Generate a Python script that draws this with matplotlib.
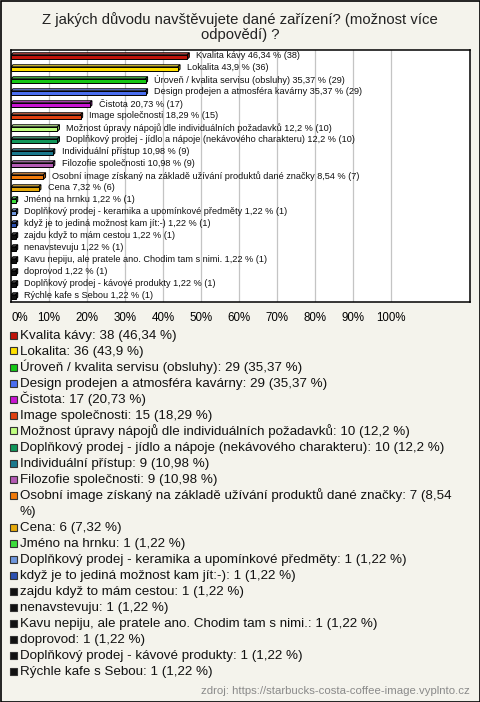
import matplotlib
matplotlib.use("Agg")
import matplotlib.pyplot as plt
from matplotlib.patches import Polygon, Rectangle

plt.rcParams['font.family'] = ['Liberation Sans', 'DejaVu Sans']

title = "Z jakých důvodu navštěvujete dané zařízení? (možnost více\nodpovědí) ?"
source = "zdroj: https://starbucks-costa-coffee-image.vyplnto.cz"

categories = [
    "Kvalita kávy",
    "Lokalita",
    "Úroveň / kvalita servisu (obsluhy)",
    "Design prodejen a atmosféra kavárny",
    "Čistota",
    "Image společnosti",
    "Možnost úpravy nápojů dle individuálních požadavků",
    "Doplňkový prodej - jídlo a nápoje (nekávového charakteru)",
    "Individuální přístup",
    "Filozofie společnosti",
    "Osobní image získaný na základě užívání produktů dané značky",
    "Cena",
    "Jméno na hrnku",
    "Doplňkový prodej - keramika a upomínkové předměty",
    "když je to jediná možnost kam jít:-)",
    "zajdu když to mám cestou",
    "nenavstevuju",
    "Kavu nepiju, ale pratele ano. Chodim tam s nimi.",
    "doprovod",
    "Doplňkový prodej - kávové produkty",
    "Rýchle kafe s Sebou",
]
counts = [38, 36, 29, 29, 17, 15, 10, 10, 9, 9, 7, 6, 1, 1, 1, 1, 1, 1, 1, 1, 1]
percents = [46.34, 43.9, 35.37, 35.37, 20.73, 18.29, 12.2, 12.2, 10.98, 10.98,
            8.54, 7.32, 1.22, 1.22, 1.22, 1.22, 1.22, 1.22, 1.22, 1.22, 1.22]
colors = ["#c0140a", "#ffe000", "#14c814", "#4a6ef0", "#c814d2", "#e04010",
          "#c0ff80", "#10965a", "#1a788c", "#b45ab4", "#f07a0a", "#e6aa0a",
          "#3cdc3c", "#6e96dc", "#2c50b0", "#111111", "#111111", "#111111",
          "#111111", "#111111", "#111111"]
xticks = list(range(0, 101, 10))

W, H = 480, 702
bg = "#f4f3ec"

fig = plt.figure(figsize=(W / 100, H / 100), dpi=100, facecolor=bg)
fig.patches.append(Rectangle((0.5 / W, 0.5 / H), 1 - 1 / W, 1 - 1 / H, transform=fig.transFigure,
                             fill=False, edgecolor="black", linewidth=1.2))

fig.text(0.5, 1 - 27 / H, title, ha="center", va="center", fontsize=10.7,
         color="#222222", linespacing=1.1)

# chart area
ax = fig.add_axes([11 / W, 1 - 302 / H, (470 - 11) / W, (302 - 50) / H])
ax.set_facecolor("white")
n = len(categories)
ax.set_xlim(0, 120.7)
ax.set_ylim(n - 0.5, -0.5)
ax.set_xticks(xticks)
ax.set_xticklabels(["%d%%" % t for t in xticks], fontsize=8.3)
ax.get_xticklabels()[0].set_ha("left")
ax.tick_params(axis="x", length=0, pad=7)
ax.set_yticks([])
ax.grid(axis="x", color="#c4c4c4", linewidth=0.9)
ax.set_axisbelow(True)
for s in ax.spines.values():
    s.set_linewidth(1.1)

def shade(c, f):
    r, g, b = matplotlib.colors.to_rgb(c)
    if f > 1:
        return (r + (1 - r) * (f - 1), g + (1 - g) * (f - 1), b + (1 - b) * (f - 1))
    return (r * f, g * f, b * f)

dx, dy = 0.55, 0.17
for i, (v, c) in enumerate(zip(percents, colors)):
    top, bot = i - 0.1, i + 0.27
    ax.add_patch(Polygon([(0, top), (dx, top - dy), (v + dx, top - dy), (v, top)],
                         closed=True, facecolor=shade(c, 1.25), edgecolor="black", linewidth=0.7, zorder=3))
    ax.add_patch(Polygon([(v, top), (v + dx, top - dy), (v + dx, bot - dy), (v, bot)],
                         closed=True, facecolor=shade(c, 0.7), edgecolor="black", linewidth=0.7, zorder=3))
    ax.add_patch(Rectangle((0, top), v, bot - top, facecolor=c, edgecolor="black",
                           linewidth=0.7, zorder=4))
    pct = ("%g" % v).replace(".", ",")
    ax.text(v + 2.3, i, "%s %s %% (%d)" % (categories[i], pct, counts[i]),
            fontsize=6.6, va="center", ha="left", color="#111111", zorder=5)

# legend
fig.canvas.draw()
renderer = fig.canvas.get_renderer()
max_w = 470 - 20
y = 335
for cat, cnt, v, c in zip(categories, counts, percents, colors):
    pct = ("%g" % v).replace(".", ",")
    label = "%s: %d (%s %%)" % (cat, cnt, pct)
    words = label.split(" ")
    lines, cur = [], ""
    for w in words:
        trial = w if not cur else cur + " " + w
        t = fig.text(0, 0, trial, fontsize=9.6)
        width = t.get_window_extent(renderer).width
        t.remove()
        if width > max_w and cur:
            lines.append(cur)
            cur = w
        else:
            cur = trial
    lines.append(cur)
    fig.patches.append(Rectangle((10 / W, 1 - (y + 3.5) / H), 7 / W, 7 / H, transform=fig.transFigure,
                                 facecolor=c, edgecolor="#333333", linewidth=0.8))
    for ln in lines:
        fig.text(20 / W, 1 - (y + 3.8) / H, ln, fontsize=9.6, va="baseline", ha="left", color="#111111")
        y += 16

fig.text(470 / W, 1 - 691 / H, source, fontsize=8.2, ha="right", va="center", color="#8a8a8a")

fig.savefig("out.png", dpi=100, facecolor=bg)
